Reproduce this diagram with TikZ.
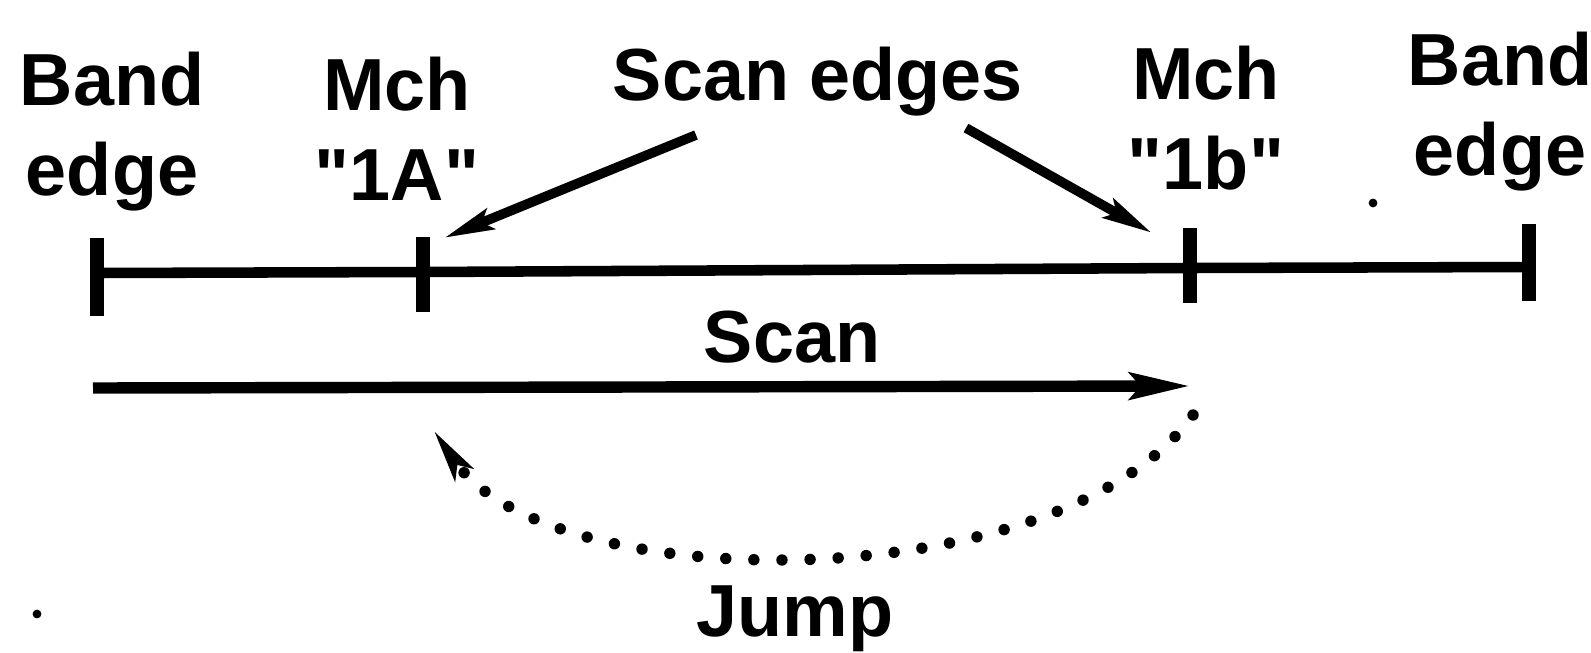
\documentclass[tikz,border=0pt]{standalone}
\usepackage{fontspec}
\setmainfont{Liberation Sans}[Ligatures=TeXOff]
\usetikzlibrary{arrows.meta}
\begin{document}
\begin{tikzpicture}[x=0.02cm,y=-0.02cm,
  lbl/.style={font=\fontsize{42}{51}\selectfont\bfseries, align=center, inner sep=0pt},
  axisline/.style={line width=6pt},
  tickmark/.style={line width=8pt},
  ptr/.style={line width=5.5pt, -{Stealth[length=28pt,width=12pt,inset=5pt]}},
  scanarrow/.style={line width=6.5pt, -{Stealth[length=34pt,width=15pt,inset=6pt]}},
  jumpline/.style={line width=6.5pt, line cap=round, dash pattern=on 0pt off 16pt, -{Stealth[length=30pt,width=11pt,inset=5pt]}},
  speck/.style={fill=black, inner sep=0pt, minimum size=5pt, circle}]
\useasboundingbox (0,0) rectangle (1591,652);
% labels
\node[lbl, anchor=north] (be1) at (112,52) {Band\\edge};
\node[lbl, anchor=north] (m1) at (397,57) {Mch\\"1A"};
\node[lbl, anchor=base] (se) at (818,100) {Scan edges};
\node[lbl, anchor=north] (m2) at (1206,46) {Mch\\"1b"};
\node[lbl, anchor=north] (be2) at (1500,32) {Band\\edge};
\node[lbl, anchor=base] (scan) at (792,362) {Scan};
\node[lbl, anchor=base] (jump) at (795,636) {Jump};
% axis
\coordinate (t1) at (97,273);
\coordinate (t2) at (423,272);
\coordinate (t3) at (1190,268);
\coordinate (t4) at (1529,267);
\draw[axisline] (t1) -- (t2) -- (t3) -- (t4);
\draw[tickmark] (97,238) -- (97,316);
\draw[tickmark] (423,237) -- (423,312);
\draw[tickmark] (1190,228) -- (1190,303);
\draw[tickmark] (1529,224) -- (1529,301);
% scan edge pointers
\coordinate (s1) at (696,135);
\coordinate (e1) at (444,238);
\coordinate (s2) at (966,128);
\coordinate (e2) at (1152,233);
\draw[ptr] (s1) -- (e1);
\draw[ptr] (s2) -- (e2);
% scan arrow
\coordinate (a1) at (93,388);
\coordinate (a2) at (1190,386);
\draw[scanarrow] (a1) -- (a2);
% jump
\coordinate (j1) at (1193,415);
\coordinate (j2) at (432,428);
\draw[jumpline] (j1) .. controls (1060,600) and (550,600) .. (j2);
% specks of the scan
\node[speck] (d1) at (1373,203) {};
\node[speck] (d2) at (37,614) {};
\end{tikzpicture}
\end{document}
